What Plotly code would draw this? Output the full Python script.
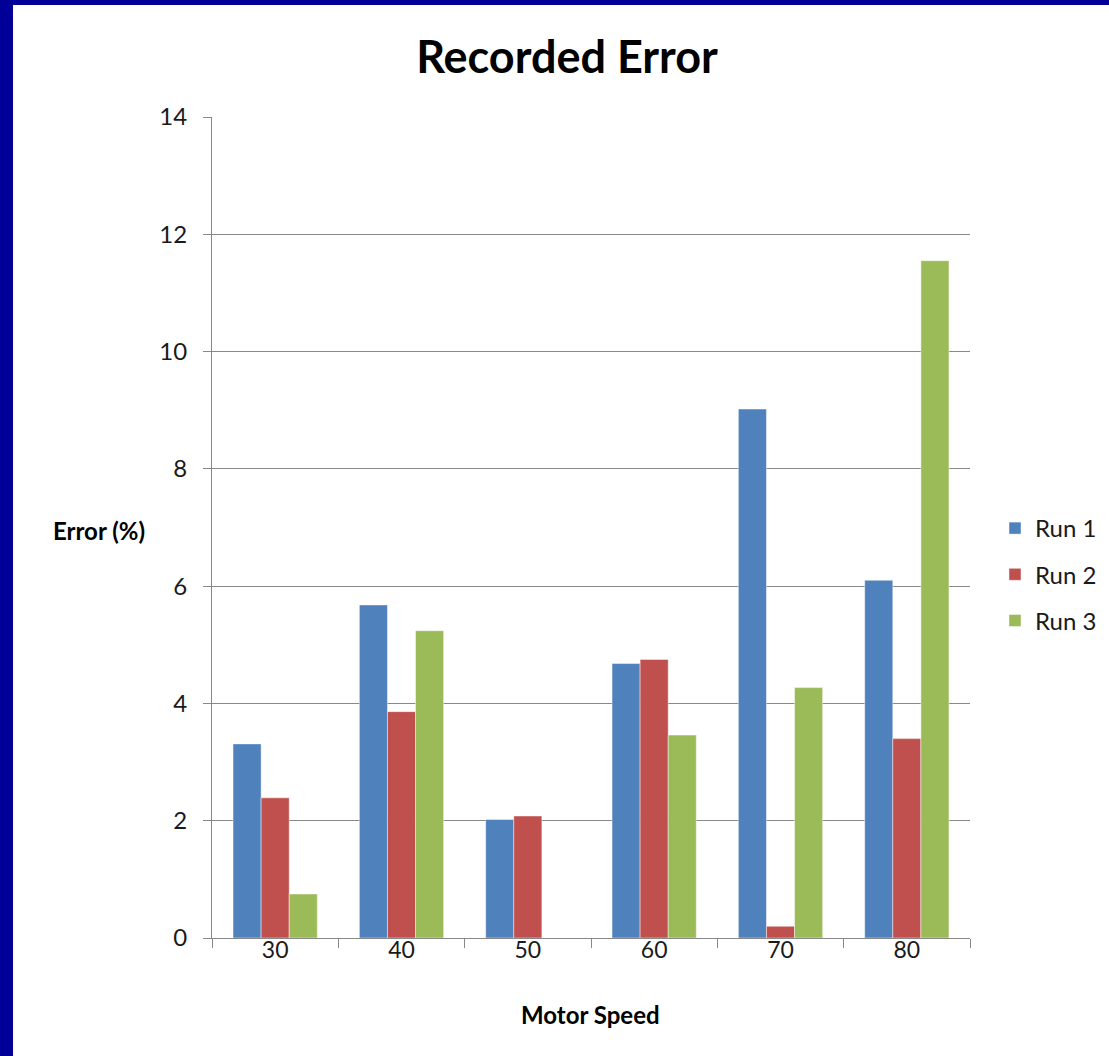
import plotly.graph_objects as go

# Recorded error (%) per motor speed for three runs
speeds = ["30", "40", "50", "60", "70", "80"]
run1 = [3.31, 5.68, 2.02, 4.68, 9.02, 6.10]
run2 = [2.39, 3.86, 2.08, 4.75, 0.20, 3.40]
run3 = [0.75, 5.24, 0.0, 3.46, 4.27, 11.55]
series_names = ["Run 1", "Run 2", "Run 3"]
series_colors = ["#4F81BD", "#C0504D", "#9BBB59"]
y_ticks = [0, 2, 4, 6, 8, 10, 12, 14]

W, H = 1109, 1056
L, R, T, B = 212, 139, 117, 118
plot_w = W - L - R
plot_h = H - T - B
AXIS_Y = T + plot_h  # pixel row of the x axis


def px_x(px):
    return (px - L) / plot_w


def px_y(py):
    return (AXIS_Y - py) / plot_h


FONT = "Lato, 'Open Sans', sans-serif"

fig = go.Figure()
for i, (name, vals, col) in enumerate(zip(series_names, [run1, run2, run3], series_colors)):
    fig.add_trace(go.Bar(
        x=speeds, y=vals, name=name,
        marker=dict(color=col, line=dict(color="rgba(255,255,255,0.45)", width=1)),
        legendgroup=f"g{i}",
    ))

grid_col = "#888888"
fig.update_layout(
    width=W, height=H,
    margin=dict(l=L, r=R, t=T, b=B, autoexpand=False),
    paper_bgcolor="white", plot_bgcolor="white",
    font=dict(family=FONT, color="#1a1a1a"),
    barmode="group", bargap=0.333, bargroupgap=0,
    title=dict(text="<b>Recorded Error</b>", x=px_x(567), xref="paper", xanchor="center",
               y=1 - 57 / H, yref="container", yanchor="middle",
               font=dict(size=45, family=FONT, color="#000000")),
    xaxis=dict(type="category", showgrid=False, showline=True, linecolor=grid_col, linewidth=1,
               ticks="outside", tickson="boundaries", ticklen=9, tickcolor=grid_col,
               ticklabelstandoff=-9,
               tickfont=dict(size=23, family=FONT, color="#1a1a1a")),
    yaxis=dict(range=[0, 14], tickvals=y_ticks, showgrid=True, gridcolor=grid_col, gridwidth=1,
               showline=True, linecolor=grid_col, linewidth=1, zeroline=False,
               ticks="outside", ticklen=8, tickcolor=grid_col, ticklabelstandoff=11,
               tickfont=dict(size=24, family=FONT, color="#1a1a1a")),
    legend=dict(x=px_x(995), y=px_y(506), xanchor="left", yanchor="top",
                font=dict(size=24, family=FONT, color="#1a1a1a"),
                tracegroupgap=12, itemwidth=30, bgcolor="rgba(0,0,0,0)"),
    showlegend=True,
)

fig.add_annotation(text="<b>Error (%)</b>", x=px_x(99), y=px_y(530), xref="paper", yref="paper",
                   xanchor="center", yanchor="middle", showarrow=False,
                   font=dict(size=24, family=FONT, color="#000000"))
fig.add_annotation(text="<b>Motor Speed</b>", x=px_x(590), y=px_y(1014), xref="paper", yref="paper",
                   xanchor="center", yanchor="middle", showarrow=False,
                   font=dict(size=24, family=FONT, color="#000000"))

# dark blue frame along the left and top edges
frame = "#000099"
fig.add_shape(type="rect", xref="paper", yref="paper", x0=px_x(0), x1=px_x(13), y0=px_y(H), y1=px_y(0),
              fillcolor=frame, line=dict(width=0), layer="above")
fig.add_shape(type="rect", xref="paper", yref="paper", x0=px_x(0), x1=px_x(W), y0=px_y(5), y1=px_y(0),
              fillcolor=frame, line=dict(width=0), layer="above")

fig.write_html("out.html")
